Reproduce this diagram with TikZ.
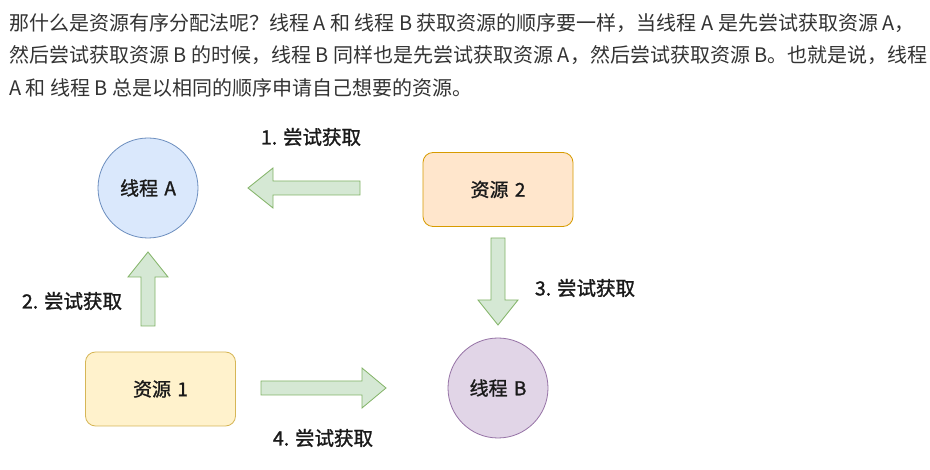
\documentclass[tikz,border=0pt]{standalone}
\usepackage{fontspec}
\setmainfont{Noto Sans CJK SC}
\newfontfamily\diagfont{Noto Sans CJK SC}[FakeBold=1.2]
\definecolor{para}{HTML}{333333}
\definecolor{txt}{HTML}{1A1A1A}
\definecolor{blueF}{HTML}{DAE8FC}\definecolor{blueD}{HTML}{6C8EBF}
\definecolor{purpF}{HTML}{E1D5E7}\definecolor{purpD}{HTML}{9673A6}
\definecolor{yelF}{HTML}{FFF2CC}\definecolor{yelD}{HTML}{D6B656}
\definecolor{orgF}{HTML}{FFE6CC}\definecolor{orgD}{HTML}{D79B00}
\definecolor{grnF}{HTML}{D5E8D4}\definecolor{grnD}{HTML}{82B366}
\begin{document}
\begin{tikzpicture}[x=1pt,y=-1pt,
  paraline/.style={anchor=base west,inner sep=0,text=para,font=\fontsize{20}{20}\selectfont},
  thread/.style={circle,draw=#1D,fill=#1F,line width=0.8pt,minimum size=100pt,inner sep=0,text=txt,font=\diagfont\fontsize{19}{19}\selectfont},
  res/.style={rectangle,rounded corners=10pt,draw=#1D,fill=#1F,line width=0.8pt,minimum width=150pt,minimum height=74pt,inner sep=0,text=txt,font=\diagfont\fontsize{19}{19}\selectfont},
  lbl/.style={inner sep=0,text=txt,font=\diagfont\fontsize{19.5}{19.5}\selectfont},
  blockarrow/.style={draw=grnD,fill=grnF,line width=0.8pt,line join=miter}]
\useasboundingbox (0,0) rectangle (930,470);
\fill[white] (0,0) rectangle (930,470);
% paragraph
\node[paraline] (p1) at (9,30.5) {那什么是资源有序分配法呢？线程 A 和 线程 B 获取资源的顺序要一样，当线程 A 是先尝试获取资源 A，};
\node[paraline] (p2) at (9,62.5) {然后尝试获取资源 B 的时候，线程 B 同样也是先尝试获取资源 A，然后尝试获取资源 B。也就是说，线程};
\node[paraline] (p3) at (9,95.5) {A 和 线程 B 总是以相同的顺序申请自己想要的资源。};
% nodes
\node[thread=blue] (ta) at (148,188) {线程\,\,A};
\node[thread=purp] (tb) at (498,388) {线程\,\,B};
\node[res=org] (r2) at (498,189.5) {资源\,\,2};
\node[res=yel] (r1) at (160.5,389) {资源\,\,1};
% block arrows
% 1: left, from r2 toward ta
\draw[blockarrow] (360,181) -- (273,181) -- (273,168) -- (248,188) -- (273,208) -- (273,195) -- (360,195) -- cycle;
% 2: up, from r1 toward ta
\draw[blockarrow] (141,326) -- (141,277) -- (128,277) -- (148,252) -- (168,277) -- (155,277) -- (155,326) -- cycle;
% 3: down, from r2 toward tb
\draw[blockarrow] (491,238) -- (491,300) -- (478,300) -- (498,325) -- (518,300) -- (505,300) -- (505,238) -- cycle;
% 4: right, from r1 toward tb
\draw[blockarrow] (261,381) -- (362,381) -- (362,368) -- (386,388) -- (362,408) -- (362,395) -- (261,395) -- cycle;
% labels
\node[lbl] (l1) at (311,137) {1. 尝试获取};
\node[lbl] (l2) at (72,301) {2. 尝试获取};
\node[lbl] (l3) at (585,288) {3. 尝试获取};
\node[lbl] (l4) at (323,438) {4. 尝试获取};
\end{tikzpicture}
\end{document}
